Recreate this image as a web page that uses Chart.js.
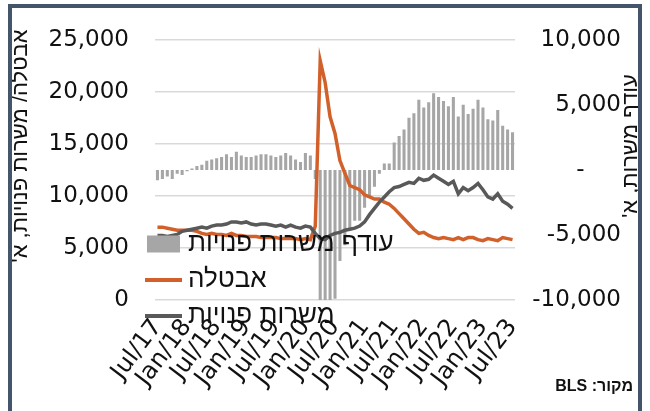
<!DOCTYPE html>
<html lang="he">
<head>
<meta charset="utf-8">
<script src="https://cdn.jsdelivr.net/npm/chart.js@4.4.0/dist/chart.umd.min.js"></script>
<style>
  html, body { margin: 0; padding: 0; background: #fff; }
  #wrap { position: relative; width: 650px; height: 411px; overflow: hidden; }
  #chart { position: absolute; left: 0; top: 0; }
  .frame { position: absolute; left: 8px; top: 4px; width: 626px; height: 430px;
           border: 4px solid #44546a; border-bottom: none; pointer-events: none; }
</style>
</head>
<body>
<div id="wrap">
  <canvas id="chart" width="650" height="411"></canvas>
  <div class="frame"></div>
</div>
<script>
// monthly, Jul/17 .. Jul/23 (thousands)
const months = [
  'Jul/17', 'Aug/17', 'Sep/17', 'Oct/17', 'Nov/17', 'Dec/17',
  'Jan/18', 'Feb/18', 'Mar/18', 'Apr/18', 'May/18', 'Jun/18', 'Jul/18', 'Aug/18', 'Sep/18', 'Oct/18', 'Nov/18', 'Dec/18',
  'Jan/19', 'Feb/19', 'Mar/19', 'Apr/19', 'May/19', 'Jun/19', 'Jul/19', 'Aug/19', 'Sep/19', 'Oct/19', 'Nov/19', 'Dec/19',
  'Jan/20', 'Feb/20', 'Mar/20', 'Apr/20', 'May/20', 'Jun/20', 'Jul/20', 'Aug/20', 'Sep/20', 'Oct/20', 'Nov/20', 'Dec/20',
  'Jan/21', 'Feb/21', 'Mar/21', 'Apr/21', 'May/21', 'Jun/21', 'Jul/21', 'Aug/21', 'Sep/21', 'Oct/21', 'Nov/21', 'Dec/21',
  'Jan/22', 'Feb/22', 'Mar/22', 'Apr/22', 'May/22', 'Jun/22', 'Jul/22', 'Aug/22', 'Sep/22', 'Oct/22', 'Nov/22', 'Dec/22',
  'Jan/23', 'Feb/23', 'Mar/23', 'Apr/23', 'May/23', 'Jun/23', 'Jul/23'
];

const tickLabels = ['Jul/17', 'Jan/18', 'Jul/18', 'Jan/19', 'Jul/19', 'Jan/20', 'Jul/20',
                    'Jan/21', 'Jul/21', 'Jan/22', 'Jul/22', 'Jan/23', 'Jul/23'];

const unemployment = [
  7000, 7000, 6900, 6800, 6700, 6700,
  6700, 6700, 6600, 6400, 6300, 6400, 6300, 6300, 6200, 6400, 6200, 6200,
  6100, 6100, 6100, 6000, 6000, 6000, 6000, 5900, 5900, 5900, 5900, 5800,
  5900, 5800, 7100, 23000, 20900, 17600, 16000, 13400, 12200, 11000, 10800, 10600,
  10100, 9900, 9700, 9700, 9400, 9200, 8800, 8300, 7800, 7300, 6800, 6400,
  6500, 6200, 6000, 5900, 6000, 5900, 5800, 6000, 5800, 6000, 6000, 5800,
  5700, 5900, 5800, 5700, 6000, 5900, 5800
];

const vacancies = [
  6200, 6200, 6100, 6200, 6300, 6600,
  6700, 6800, 6900, 7000, 6900, 7100, 7200, 7200, 7300, 7500, 7500, 7400,
  7500, 7300, 7200, 7300, 7300, 7200, 7100, 7200, 7000, 7200, 7000, 6900,
  7100, 7000, 6400, 5900, 5800, 6200, 6400, 6500, 6700, 6800, 6900, 7100,
  7500, 8200, 8800, 9400, 9900, 10400, 10800, 10900, 11100, 11300, 11200, 11700,
  11500, 11600, 12000, 11700, 11400, 11100, 11400, 10200, 10800, 10500, 10800, 11200,
  10600, 9900, 9700, 10200, 9500, 9200, 8800
];

// vacancies minus unemployed, right axis
const surplus = [
  -800, -700, -500, -700, -300, -400,
  -100, 100, 300, 400, 700, 800, 900, 1000, 1200, 1000, 1400, 1100,
  1000, 1000, 1100, 1200, 1200, 1100, 1000, 1100, 1300, 1100, 800, 600,
  1300, 1100, -700, -17100, -15100, -11400, -9900, -7000, -5800, -4600, -3900, -3900,
  -2900, -2000, -1300, -300, 500, 500, 2100, 2600, 3100, 4000, 4350, 5400,
  4800, 5200, 5900, 5600, 5300, 4900, 5600, 4100, 5000, 4300, 4700, 5400,
  4800, 3900, 3800, 4600, 3400, 3100, 2900
];

const NUM_FONT = "'DejaVu Sans', sans-serif";
const HEB_FONT = "'Liberation Sans', Arial, sans-serif";
const TEXT = '#111';

const fmt = v => v.toLocaleString('en-US');

// legend, rotated axis titles and source line
const overlay = {
  id: 'overlay',
  afterDraw(chart) {
    const ctx = chart.ctx;
    ctx.save();
    ctx.fillStyle = TEXT;
    ctx.direction = 'rtl';
    ctx.textBaseline = 'middle';

    // legend rows
    const rows = [244, 280, 316];
    chart.data.datasets.forEach((ds, i) => {
      const y = rows[i];
      if (ds.type === 'line') {
        ctx.strokeStyle = ds.borderColor;
        ctx.lineWidth = 4;
        ctx.beginPath();
        ctx.moveTo(145, y);
        ctx.lineTo(182, y);
        ctx.stroke();
      } else {
        ctx.fillStyle = ds.backgroundColor;
        ctx.fillRect(147, y - 8.5, 33, 17);
      }
      ctx.fillStyle = TEXT;
      ctx.font = '26px ' + HEB_FONT;
      ctx.textAlign = 'left';
      ctx.fillText(ds.label, 188, y);
    });

    // axis titles
    ctx.textAlign = 'center';
    ctx.font = '22px ' + HEB_FONT;
    ctx.save();
    ctx.translate(21, 146);
    ctx.rotate(-Math.PI / 2);
    ctx.fillText("אבטלה/ משרות פנויות, א'", 0, 0);
    ctx.restore();
    ctx.save();
    ctx.translate(631, 146);
    ctx.rotate(-Math.PI / 2);
    ctx.fillText("עודף משרות, א'", 0, 0);
    ctx.restore();

    ctx.font = 'bold 16px ' + HEB_FONT;
    ctx.textAlign = 'right';
    ctx.fillText('מקור: BLS', 633, 387);
    ctx.restore();
  }
};

new Chart(document.getElementById('chart'), {
  type: 'bar',
  data: {
    labels: months,
    datasets: [
      {
        type: 'bar',
        label: 'עודף משרות פנויות',
        data: surplus,
        yAxisID: 'y1',
        backgroundColor: '#a6a6a6',
        categoryPercentage: 1,
        barPercentage: 0.62,
        order: 3
      },
      {
        type: 'line',
        label: 'אבטלה',
        data: unemployment,
        yAxisID: 'y',
        borderColor: '#d2602a',
        borderWidth: 3.5,
        pointRadius: 0,
        tension: 0,
        order: 2
      },
      {
        type: 'line',
        label: 'משרות פנויות',
        data: vacancies,
        yAxisID: 'y',
        borderColor: '#595959',
        borderWidth: 3.5,
        pointRadius: 0,
        tension: 0,
        order: 1
      }
    ]
  },
  options: {
    responsive: false,
    animation: false,
    devicePixelRatio: 1,
    layout: { padding: { top: 25, left: 0, right: 29, bottom: 0 } },
    plugins: { legend: { display: false }, tooltip: { enabled: false } },
    scales: {
      x: {
        offset: true,
        grid: { display: false, drawTicks: false },
        border: { display: false },
        ticks: {
          autoSkip: false,
          minRotation: 53,
          maxRotation: 53,
          padding: 14,
          color: TEXT,
          font: { family: NUM_FONT, size: 24 },
          callback: (v, i) => tickLabels.includes(months[i]) ? months[i] : ''
        },
        afterFit: s => { s.height = 111; }
      },
      y: {
        position: 'left',
        min: 0,
        max: 25000,
        grid: { color: '#d9d9d9', lineWidth: 1.5, drawTicks: false },
        border: { display: false },
        ticks: { stepSize: 5000, padding: 26, color: TEXT, font: { family: NUM_FONT, size: 23 }, callback: v => fmt(v) },
        afterFit: s => { s.width = 155; }
      },
      y1: {
        position: 'right',
        min: -10000,
        max: 10000,
        grid: { display: false, drawTicks: false },
        border: { display: false },
        ticks: {
          stepSize: 5000,
          crossAlign: 'far',
          color: TEXT,
          font: { family: NUM_FONT, size: 23 },
          callback: v => v === 0 ? '-     ' : fmt(v)
        },
        afterFit: s => { s.width = 106; }
      }
    }
  },
  plugins: [overlay]
});
</script>
</body>
</html>
